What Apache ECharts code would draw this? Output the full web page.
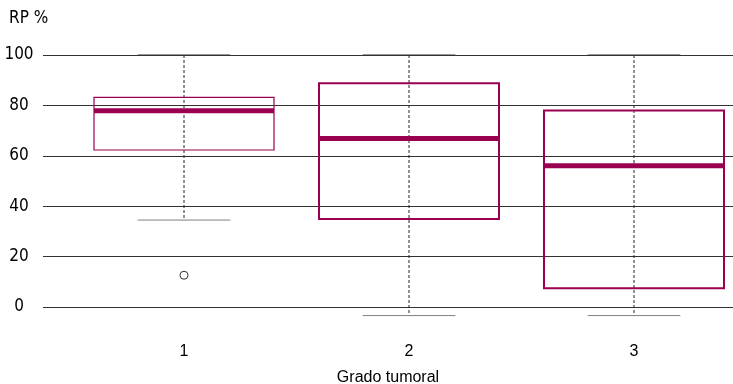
<!DOCTYPE html>
<html>
<head>
<meta charset="utf-8">
<script src="https://cdn.jsdelivr.net/npm/echarts@6/dist/echarts.min.js"></script>
<style>
  html, body { margin: 0; padding: 0; background: #fff; }
  #chart { width: 733px; height: 384px; }
</style>
</head>
<body>
<div id="chart"></div>
<script>
// Tumour grade categories and box statistics for RP %
const categories = ['1', '2', '3'];
const whiskerLow = [34.5, -3.4, -3.4];
const quartile1 = [62.3, 34.9, 7.4];
const medians = [77.9, 66.9, 56.1];
const quartile3 = [83.2, 88.8, 78.0];
const whiskerHigh = [100, 100, 100];
// Outliers as [category index, value]
const outliers = [[0, 12.6]];
const yTicks = [0, 20, 40, 60, 80, 100];

const BOX_COLOR = '#99004f';
const BOX_STROKE = [1.2, 2, 2];
const LABEL_FONT = '"DejaVu Sans Condensed", "Liberation Sans Narrow", sans-serif';
const NAME_FONT = '"Liberation Sans", sans-serif';

const boxData = categories.map((c, k) => [k, whiskerLow[k], quartile1[k], medians[k], quartile3[k], whiskerHigh[k]]);

// One box per grade: dashed whisker, caps, quartile box and thick median bar
function renderBox(params, api) {
  const k = api.value(0);
  const lo = api.coord([k, api.value(1)]);
  const q1 = api.coord([k, api.value(2)]);
  const md = api.coord([k, api.value(3)]);
  const q3 = api.coord([k, api.value(4)]);
  const hi = api.coord([k, api.value(5)]);
  const band = api.size([1, 0])[0];
  const half = band * 0.4;
  const capHalf = band * 0.206;
  const cx = hi[0];
  const sw = BOX_STROKE[params.dataIndex];
  return {
    type: 'group',
    children: [
      { type: 'line', shape: { x1: cx, y1: hi[1], x2: cx, y2: lo[1] },
        style: { stroke: '#222', lineWidth: 1, lineDash: [3, 2] } },
      { type: 'line', shape: { x1: cx - capHalf, y1: hi[1], x2: cx + capHalf, y2: hi[1] },
        style: { stroke: '#333', lineWidth: 1 } },
      { type: 'line', shape: { x1: cx - capHalf, y1: lo[1], x2: cx + capHalf, y2: lo[1] },
        style: { stroke: '#808080', lineWidth: 1 } },
      { type: 'rect', shape: { x: cx - half, y: q3[1], width: half * 2, height: q1[1] - q3[1] },
        style: { fill: 'none', stroke: BOX_COLOR, lineWidth: sw } },
      { type: 'line', shape: { x1: cx - half, y1: md[1], x2: cx + half, y2: md[1] },
        style: { stroke: BOX_COLOR, lineWidth: 5 } }
    ]
  };
}

const chart = echarts.init(document.getElementById('chart'), null, { renderer: 'canvas' });
chart.setOption({
  animation: false,
  backgroundColor: '#fff',
  title: {
    text: 'RP %', left: 9, top: 10, padding: 0,
    textStyle: { fontFamily: LABEL_FONT, fontSize: 17, fontWeight: 'normal', color: '#000' }
  },
  grid: [
    { left: 43, width: 690, top: 55, height: 252, outerBoundsMode: 'none', containLabel: false },
    { left: 71.5, width: 675, top: 55, height: 252, outerBoundsMode: 'none', containLabel: false }
  ],
  xAxis: [
    {
      gridIndex: 0, type: 'value', min: 0, max: 1,
      axisLine: { show: false }, axisTick: { show: false }, axisLabel: { show: false }, splitLine: { show: false },
      name: 'Grado tumoral', nameLocation: 'middle', nameGap: 63,
      nameTextStyle: { fontFamily: NAME_FONT, fontSize: 16, color: '#000' }
    },
    {
      gridIndex: 1, type: 'category', data: categories, boundaryGap: true,
      axisLine: { show: false }, axisTick: { show: false }, splitLine: { show: false },
      axisLabel: { margin: 37, fontFamily: NAME_FONT, fontSize: 16, color: '#000' }
    }
  ],
  yAxis: [
    {
      gridIndex: 0, type: 'value', min: yTicks[0], max: yTicks[yTicks.length - 1], interval: 20,
      axisLine: { show: false }, axisTick: { show: false },
      axisLabel: { margin: 24, align: 'center', fontFamily: LABEL_FONT, fontSize: 17, color: '#000' },
      splitLine: { show: true, lineStyle: { color: '#333', width: 1 } }
    },
    {
      gridIndex: 1, type: 'value', min: yTicks[0], max: yTicks[yTicks.length - 1], interval: 20,
      show: false, splitLine: { show: false }
    }
  ],
  series: [
    {
      type: 'custom', xAxisIndex: 1, yAxisIndex: 1, clip: false,
      renderItem: renderBox,
      encode: { x: 0, y: [1, 2, 3, 4, 5] },
      data: boxData
    },
    {
      type: 'scatter', xAxisIndex: 1, yAxisIndex: 1,
      symbol: 'circle', symbolSize: 8,
      itemStyle: { color: '#fff', borderColor: '#333', borderWidth: 1, opacity: 1 },
      data: outliers
    }
  ]
});
</script>
</body>
</html>
